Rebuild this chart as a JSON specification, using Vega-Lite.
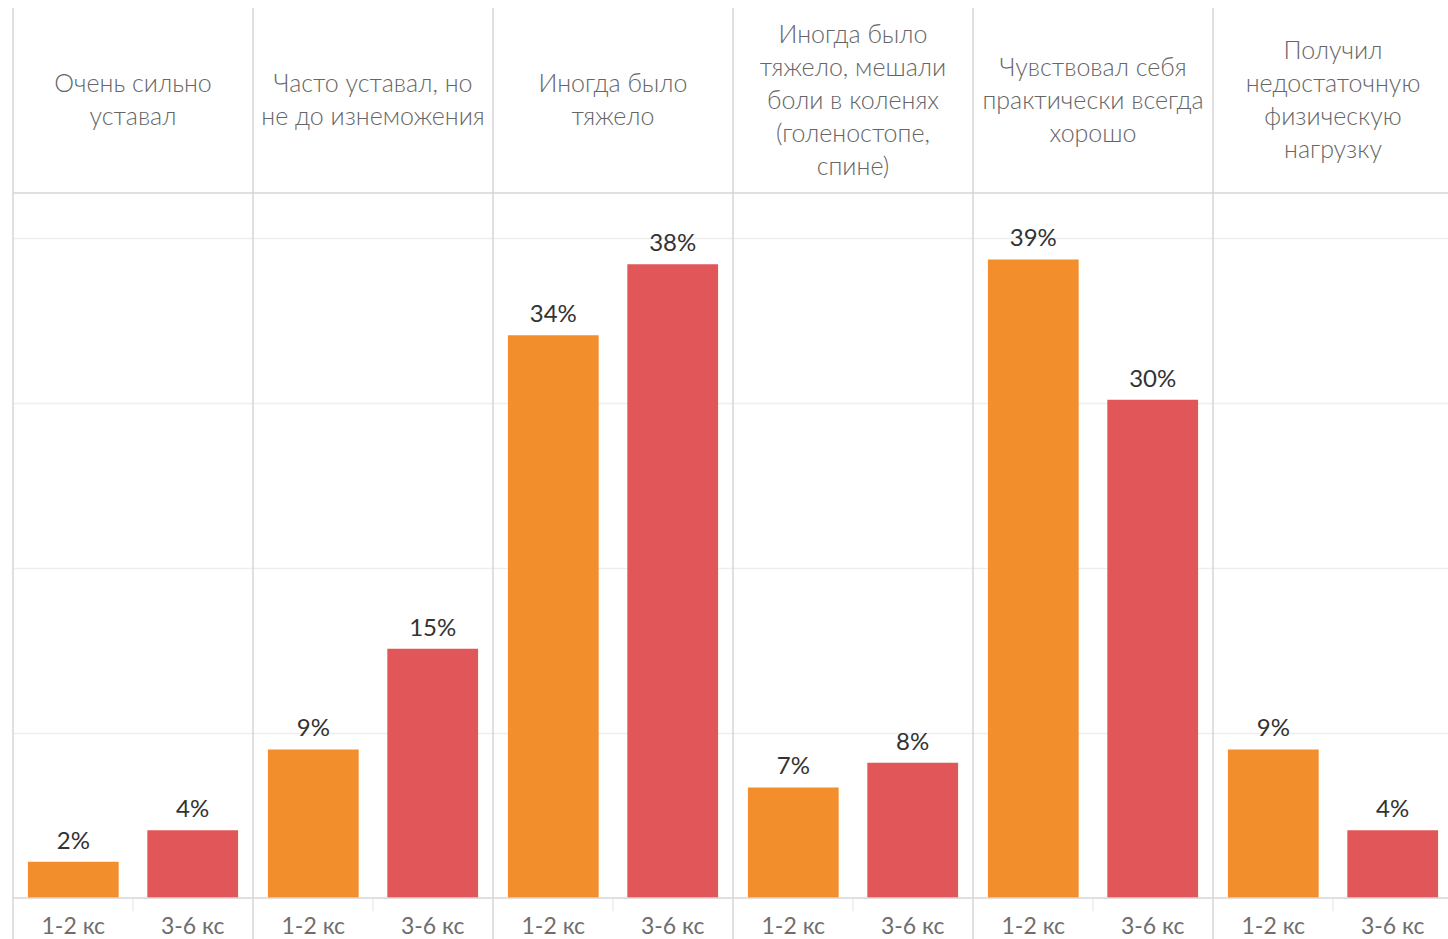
{
  "$schema": "https://vega.github.io/schema/vega-lite/v6.json",
  "width": 1435,
  "height": 939,
  "autosize": {"type": "none"},
  "padding": {"left": 13, "top": 0, "right": 0, "bottom": 0},
  "background": "white",
  "config": {"view": {"stroke": null}, "font": "Lato"},
  "datasets": {
    "answers": [
      {"cat": "Очень сильно\nуставал", "group": "1-2 кс", "val": 0.022},
      {"cat": "Очень сильно\nуставал", "group": "3-6 кс", "val": 0.041},
      {"cat": "Часто уставал, но\nне до изнеможения", "group": "1-2 кс", "val": 0.090},
      {"cat": "Часто уставал, но\nне до изнеможения", "group": "3-6 кс", "val": 0.151},
      {"cat": "Иногда было\nтяжело", "group": "1-2 кс", "val": 0.341},
      {"cat": "Иногда было\nтяжело", "group": "3-6 кс", "val": 0.384},
      {"cat": "Иногда было\nтяжело, мешали\nболи в коленях\n(голеностопе,\nспине)", "group": "1-2 кс", "val": 0.067},
      {"cat": "Иногда было\nтяжело, мешали\nболи в коленях\n(голеностопе,\nспине)", "group": "3-6 кс", "val": 0.082},
      {"cat": "Чувствовал себя\nпрактически всегда\nхорошо", "group": "1-2 кс", "val": 0.387},
      {"cat": "Чувствовал себя\nпрактически всегда\nхорошо", "group": "3-6 кс", "val": 0.302},
      {"cat": "Получил\nнедостаточную\nфизическую\nнагрузку", "group": "1-2 кс", "val": 0.090},
      {"cat": "Получил\nнедостаточную\nфизическую\nнагрузку", "group": "3-6 кс", "val": 0.041}
    ],
    "cats": [
      {"cat": "Очень сильно\nуставал"},
      {"cat": "Часто уставал, но\nне до изнеможения"},
      {"cat": "Иногда было\nтяжело"},
      {"cat": "Иногда было\nтяжело, мешали\nболи в коленях\n(голеностопе,\nспине)"},
      {"cat": "Чувствовал себя\nпрактически всегда\nхорошо"},
      {"cat": "Получил\nнедостаточную\nфизическую\nнагрузку"}
    ],
    "one": [{}]
  },
  "layer": [
    {
      "data": {"name": "answers"},
      "mark": {"type": "bar"},
      "encoding": {
        "x": {
          "field": "cat", "type": "nominal", "sort": null,
          "scale": {
            "domain": [
              "Очень сильно\nуставал",
              "Часто уставал, но\nне до изнеможения",
              "Иногда было\nтяжело",
              "Иногда было\nтяжело, мешали\nболи в коленях\n(голеностопе,\nспине)",
              "Чувствовал себя\nпрактически всегда\nхорошо",
              "Получил\nнедостаточную\nфизическую\nнагрузку"
            ],
            "range": [0, 1440],
            "paddingInner": 0, "paddingOuter": 0
          },
          "axis": null
        },
        "xOffset": {
          "field": "group", "type": "nominal",
          "scale": {"paddingInner": 0.24, "paddingOuter": 0.125}
        },
        "y": {
          "field": "val", "type": "quantitative",
          "scale": {"domain": [-0.02485, 0.5442], "nice": false, "zero": false},
          "axis": {
            "values": [0.1, 0.2, 0.3, 0.4], "grid": true, "gridColor": "#eeeeee",
            "gridWidth": 1.5, "domain": false, "ticks": false, "labels": false, "title": null
          }
        },
        "color": {
          "field": "group", "type": "nominal",
          "scale": {"domain": ["1-2 кс", "3-6 кс"], "range": ["#F28E2B", "#E15759"]},
          "legend": null
        }
      }
    },
    {
      "data": {"name": "answers"},
      "mark": {"type": "text", "baseline": "bottom", "dy": -8, "fontSize": 24, "color": "#333333"},
      "encoding": {
        "x": {"field": "cat", "type": "nominal", "sort": null},
        "xOffset": {"field": "group", "type": "nominal"},
        "y": {"field": "val", "type": "quantitative"},
        "text": {"field": "val", "type": "quantitative", "format": ".0%"}
      }
    },
    {
      "data": {"name": "answers"},
      "mark": {"type": "text", "baseline": "middle", "fontSize": 23, "color": "#6e6e6e"},
      "encoding": {
        "x": {"field": "cat", "type": "nominal", "sort": null},
        "xOffset": {"field": "group", "type": "nominal"},
        "y": {"datum": -0.0175},
        "text": {"field": "group", "type": "nominal"}
      }
    },
    {
      "data": {"name": "cats"},
      "transform": [{"filter": {"field": "cat", "oneOf": ["Очень сильно\nуставал", "Часто уставал, но\nне до изнеможения", "Иногда было\nтяжело"]}}],
      "mark": {"type": "text", "baseline": "middle", "fontSize": 25, "fontWeight": 300, "lineHeight": 33, "lineBreak": "\n", "color": "#666666"},
      "encoding": {
        "x": {"field": "cat", "type": "nominal", "sort": null},
        "y": {"datum": 0.4930},
        "text": {"field": "cat", "type": "nominal"}
      }
    },
    {
      "data": {"name": "cats"},
      "transform": [{"filter": {"field": "cat", "oneOf": ["Чувствовал себя\nпрактически всегда\nхорошо"]}}],
      "mark": {"type": "text", "baseline": "middle", "fontSize": 25, "fontWeight": 300, "lineHeight": 33, "lineBreak": "\n", "color": "#666666"},
      "encoding": {
        "x": {"field": "cat", "type": "nominal", "sort": null},
        "y": {"datum": 0.5030},
        "text": {"field": "cat", "type": "nominal"}
      }
    },
    {
      "data": {"name": "cats"},
      "transform": [{"filter": {"field": "cat", "oneOf": ["Получил\nнедостаточную\nфизическую\nнагрузку"]}}],
      "mark": {"type": "text", "baseline": "middle", "fontSize": 25, "fontWeight": 300, "lineHeight": 33, "lineBreak": "\n", "color": "#666666"},
      "encoding": {
        "x": {"field": "cat", "type": "nominal", "sort": null},
        "y": {"datum": 0.5130},
        "text": {"field": "cat", "type": "nominal"}
      }
    },
    {
      "data": {"name": "cats"},
      "transform": [{"filter": {"field": "cat", "oneOf": ["Иногда было\nтяжело, мешали\nболи в коленях\n(голеностопе,\nспине)"]}}],
      "mark": {"type": "text", "baseline": "middle", "fontSize": 25, "fontWeight": 300, "lineHeight": 33, "lineBreak": "\n", "color": "#666666"},
      "encoding": {
        "x": {"field": "cat", "type": "nominal", "sort": null},
        "y": {"datum": 0.5230},
        "text": {"field": "cat", "type": "nominal"}
      }
    },
    {
      "data": {"name": "cats"},
      "mark": {"type": "rule", "color": "#d6d6d6", "strokeWidth": 1.5},
      "encoding": {
        "x": {"field": "cat", "type": "nominal", "sort": null, "bandPosition": 0},
        "y": {"datum": 0.5394},
        "y2": {"datum": -0.03}
      }
    },
    {
      "data": {"name": "cats"},
      "mark": {"type": "rule", "color": "#ececec", "strokeWidth": 1.5},
      "encoding": {
        "x": {"field": "cat", "type": "nominal", "sort": null, "bandPosition": 0.5},
        "y": {"datum": 0},
        "y2": {"datum": -0.008}
      }
    },
    {
      "data": {"name": "one"},
      "mark": {"type": "rule", "color": "#d6d6d6", "strokeWidth": 1.5},
      "encoding": {"y": {"datum": 0.4273}}
    },
    {
      "data": {"name": "one"},
      "mark": {"type": "rule", "color": "#d6d6d6", "strokeWidth": 1.5},
      "encoding": {"y": {"datum": 0}}
    }
  ]
}
